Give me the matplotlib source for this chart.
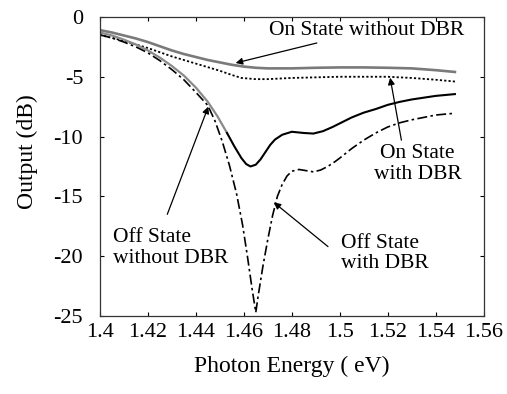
import matplotlib
matplotlib.use("Agg")
import matplotlib.pyplot as plt
import numpy as np

plt.rcParams['font.family'] = ['Liberation Serif', 'DejaVu Serif']
plt.rcParams['axes.unicode_minus'] = False

# ---- data ----
e_on_wo = [1.40, 1.405, 1.41, 1.415, 1.42, 1.425, 1.43, 1.435, 1.44, 1.445, 1.45, 1.455, 1.46, 1.465,
           1.47, 1.48, 1.49, 1.50, 1.51, 1.52, 1.53, 1.54, 1.548]
on_wo = [-1.1, -1.3, -1.55, -1.8, -2.1, -2.45, -2.8, -3.1, -3.35, -3.6, -3.8, -4.0, -4.15, -4.25,
         -4.3, -4.3, -4.25, -4.22, -4.22, -4.25, -4.3, -4.45, -4.6]

e_on_w = [1.40, 1.405, 1.41, 1.415, 1.42, 1.425, 1.43, 1.435, 1.44, 1.445, 1.45, 1.455, 1.459, 1.465,
          1.47, 1.48, 1.49, 1.50, 1.51, 1.52, 1.53, 1.54, 1.548]
on_w = [-1.5, -1.75, -2.0, -2.3, -2.6, -2.95, -3.3, -3.6, -3.9, -4.2, -4.5, -4.85, -5.1, -5.2,
        -5.2, -5.1, -5.05, -5.0, -5.0, -5.0, -5.1, -5.25, -5.4]

e_off_wo = [1.40, 1.405, 1.41, 1.415, 1.42, 1.425, 1.43, 1.435, 1.44, 1.445, 1.449, 1.453,
            1.456, 1.459, 1.461, 1.4628, 1.465, 1.467, 1.469, 1.471, 1.473, 1.476, 1.48, 1.485,
            1.489, 1.493, 1.497, 1.50, 1.505, 1.51, 1.515, 1.52, 1.525, 1.53, 1.535, 1.54, 1.548]
off_wo = [-1.3, -1.55, -1.9, -2.3, -2.8, -3.4, -4.1, -4.9, -5.9, -7.1, -8.3, -9.7,
          -10.8, -11.8, -12.3, -12.5, -12.35, -11.9, -11.3, -10.7, -10.25, -9.85, -9.6, -9.7,
          -9.75, -9.55, -9.2, -8.9, -8.4, -8.0, -7.7, -7.35, -7.1, -6.9, -6.75, -6.6, -6.45]

e_off_w = [1.40, 1.405, 1.41, 1.415, 1.42, 1.425, 1.43, 1.435, 1.44, 1.445, 1.448, 1.451, 1.454,
           1.457, 1.4595, 1.4615, 1.4635, 1.465, 1.466, 1.468, 1.470, 1.472, 1.474, 1.476, 1.478,
           1.480, 1.483, 1.486, 1.489, 1.492, 1.495, 1.498, 1.50, 1.505, 1.51, 1.515, 1.52, 1.525,
           1.53, 1.535, 1.54, 1.548]
off_w = [-1.5, -1.75, -2.1, -2.5, -3.0, -3.65, -4.4, -5.25, -6.3, -7.4, -8.7, -10.4, -12.4,
         -14.8, -17.4, -20.0, -22.8, -24.7, -23.3, -20.8, -18.6, -16.6, -15.0, -14.0, -13.3,
         -12.9, -12.75, -12.85, -12.95, -12.8, -12.5, -12.1, -11.8, -11.0, -10.3, -9.7, -9.2, -8.85,
         -8.6, -8.4, -8.2, -8.05]

xticks = [1.4, 1.42, 1.44, 1.46, 1.48, 1.5, 1.52, 1.54, 1.56]
xtick_labels = ['1.4', '1.42', '1.44', '1.46', '1.48', '1.5', '1.52', '1.54', '1.56']
yticks = [0, -5, -10, -15, -20, -25]

fig = plt.figure(figsize=(5.07, 3.94), dpi=100)
ax = fig.add_axes([0.197, 0.198, 0.757, 0.759])

ax.plot(e_on_wo, on_wo, color='#7a7a7a', lw=1.9)
ax.plot(e_on_w, on_w, color='black', lw=1.3, linestyle=(0, (1.2, 1.2)))

# off state without DBR: grey at first, black after the split
e_arr = np.array(e_off_wo)
o_arr = np.array(off_wo)
split = 11
ax.plot(e_arr[:split + 1], o_arr[:split + 1], color='#8a8a8a', lw=1.6)
ax.plot(e_arr[split:], o_arr[split:], color='black', lw=1.5)
ax.plot(e_off_w, off_w, color='black', lw=1.2, linestyle=(0, (6, 2, 1.5, 2)))

ax.set_xlim(1.4, 1.56)
ax.set_ylim(-25, 0)
ax.set_xticks(xticks)
ax.set_xticklabels(xtick_labels)
ax.set_yticks(yticks)
ax.tick_params(direction='in', top=True, right=True, length=3, width=0.8, labelsize=16)
ax.tick_params(axis='y', pad=12)
ax.tick_params(axis='x', pad=5)
for s in ax.spines.values():
    s.set_linewidth(0.9)
    s.set_color('#333333')

ax.set_xlabel('Photon Energy ( eV)', fontsize=17, labelpad=10)
ax.set_ylabel('Output (dB)', fontsize=17)
ax.yaxis.set_label_coords(-0.16, 0.55)

arrow = dict(arrowstyle='-|>', color='black', lw=0.9, mutation_scale=10, shrinkA=0, shrinkB=0)

ax.annotate('On State without DBR', xy=(1.4566, -3.85), xytext=(1.4705, -1.15),
            fontsize=15.5, ha='left', va='center', arrowprops=arrow)

ax.text(1.5324, -12.3, 'On State\nwith DBR', fontsize=15.5, ha='center', va='center', linespacing=1.1)
ax.annotate('', xy=(1.521, -5.08), xytext=(1.5257, -10.3), arrowprops=arrow)

ax.text(1.4054, -19.3, 'Off State\nwithout DBR', fontsize=15.5, ha='left', va='center', linespacing=1.1)
ax.annotate('', xy=(1.4452, -7.5), xytext=(1.4281, -16.5), arrowprops=arrow)

ax.text(1.5005, -19.8, 'Off State\nwith DBR', fontsize=15.5, ha='left', va='center', linespacing=1.1)
ax.annotate('', xy=(1.4725, -15.5), xytext=(1.4951, -19.2), arrowprops=arrow)

fig.savefig('out.png', dpi=100)
